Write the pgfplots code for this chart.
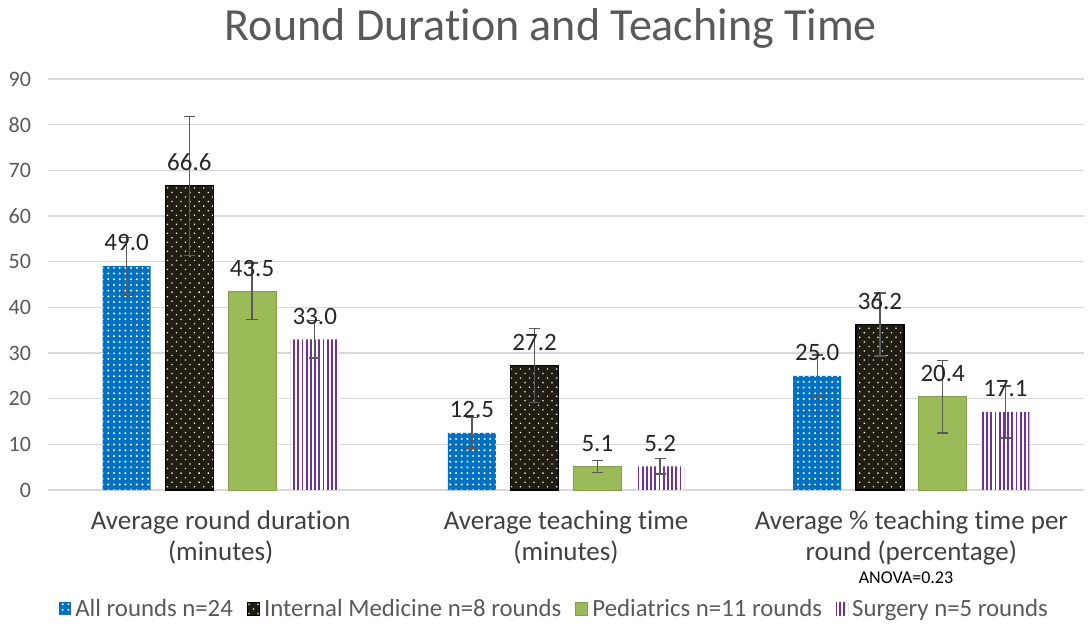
\documentclass[border=0pt]{standalone}
\usepackage{fontspec}
\setmainfont{Carlito}[RawFeature={-liga}]
\usepackage{pgfplots}
\pgfplotsset{compat=1.18}
\usetikzlibrary{patterns.meta}
\definecolor{cBlue}{HTML}{0070C0}
\definecolor{cBlack}{HTML}{211D12}
\definecolor{cGreen}{HTML}{9BBB59}
\definecolor{cPurple}{HTML}{7030A0}
\definecolor{cGrid}{HTML}{D9D9D9}
\definecolor{cText}{HTML}{595959}
\definecolor{cDark}{HTML}{404040}
\definecolor{cErr}{HTML}{595959}
\begin{document}
\begin{tikzpicture}
\path[use as bounding box] (0,0) rectangle (546bp,313.5bp);
\begin{axis}[
  at={(24bp,68.5bp)}, anchor=south west,
  scale only axis, width=518bp, height=205.5bp,
  xmin=-0.5, xmax=2.5, ymin=0, ymax=90,
  ytick={0,10,...,90},
  xtick={0,1,2},
  xticklabels={{Average round duration\\(minutes)},{Average teaching time\\(minutes)},{Average \% teaching time per\\round (percentage)}},
  xticklabel style={align=center, font=\fontsize{13.5bp}{15.5bp}\selectfont, text=cDark, yshift=-7bp},
  yticklabel style={font=\fontsize{11bp}{13bp}\selectfont, text=cText, xshift=-5bp},
  /pgf/number format/assume math mode=true,
  axis line style={draw=none},
  major tick length=0pt,
  ymajorgrids, grid style={cGrid, line width=0.8bp},
  ybar, bar width=0.139,
  clip=false,
  nodes near coords,
  nodes near coords style={font=\fontsize{12.5bp}{14bp}\selectfont, text=black!85, yshift=4bp,
    /pgf/number format/.cd, fixed, fixed zerofill, precision=1, assume math mode=true},
  error bars/y dir=both, error bars/y explicit,
  error bars/error bar style={cErr, line width=0.7bp},
  error bars/error mark options={rotate=90, mark size=2.8bp, line width=0.7bp, cErr},
  legend style={at={(0.49,-0.29)}, anchor=center, draw=none, fill=none,
    legend columns=-1, font=\fontsize{12.4bp}{14bp}\selectfont, text=cText,
    /tikz/every even column/.append style={column sep=5bp},
    inner sep=0pt},
  legend image code/.code={\path[#1] (0bp,-3bp) rectangle (6bp,3.5bp);},
]
\addplot[fill=cBlue, draw=none, bar shift=-0.2725,
  postaction={pattern={Dots[distance=2.85bp,radius=0.55bp]}, pattern color=white}]
  coordinates {(0,49.0) +- (0,6.3) (1,12.5) +- (0,3.4) (2,25.0) +- (0,4.6)};
\addlegendentry{All rounds n=24}
\addplot[fill=cBlack, draw=black, line width=0.6bp, bar shift=-0.0908,
  postaction={pattern={Dots[distance=3.2bp,angle=45,radius=0.45bp]}, pattern color=white}]
  coordinates {(0,66.6) +- (0,15.2) (1,27.2) +- (0,8.1) (2,36.2) +- (0,6.9)};
\addlegendentry{Internal Medicine n=8 rounds}
\addplot[fill=cGreen, draw=cGreen!85!black, line width=0.5bp, bar shift=0.0908]
  coordinates {(0,43.5) +- (0,6.2) (1,5.1) +- (0,1.3) (2,20.4) +- (0,7.9)};
\addlegendentry{Pediatrics n=11 rounds}
\addplot[fill=white, draw=none, bar shift=0.2725,
  postaction={pattern={Lines[angle=90,distance=2.1bp,line width=0.9bp]}, pattern color=cPurple}]
  coordinates {(0,33.0) +- (0,4.1) (1,5.2) +- (0,1.7) (2,17.1) +- (0,5.7)};
\addlegendentry{Surgery n=5 rounds}
\end{axis}
\node[anchor=base, font=\fontsize{23bp}{27bp}\selectfont, text=cText] at (275.5bp,293bp) {Round Duration and Teaching Time};
\node[anchor=center, font=\fontsize{9bp}{11bp}\selectfont, text=black] at (453bp,24.5bp) {ANOVA=0.23};
\end{tikzpicture}
\end{document}
